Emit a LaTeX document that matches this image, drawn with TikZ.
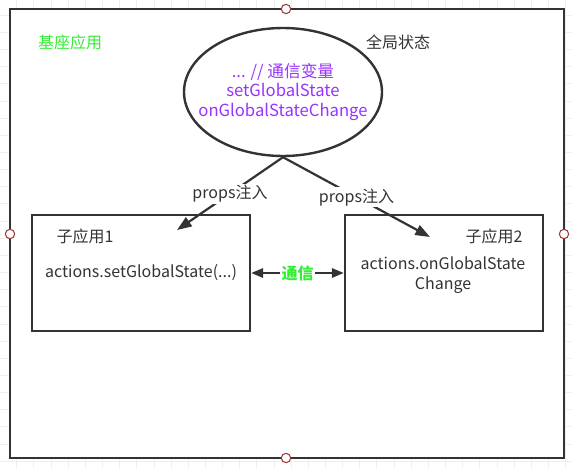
\documentclass[tikz,border=0pt]{standalone}
\usepackage{fontspec}
\setmainfont{Noto Sans CJK SC}
\usetikzlibrary{arrows.meta,shapes.geometric}
\definecolor{ink}{HTML}{333333}
\definecolor{purp}{HTML}{9933FF}
\definecolor{grn}{HTML}{33EE33}
\definecolor{hdl}{HTML}{A03A3A}
\definecolor{gridc}{HTML}{EFEFEF}
\tikzset{
  x=0.75pt,y=-0.75pt,
  frame/.style={draw=ink,line width=2.4pt*0.75,fill=white},
  boxst/.style={draw=ink,line width=2.4pt*0.75,fill=white,minimum width=218*0.75pt,minimum height=116*0.75pt,inner sep=0pt},
  txt/.style={text=ink,font=\fontsize{12}{14.5}\selectfont,inner sep=1pt},
  conn/.style={draw=ink,line width=2.2pt*0.75,-{Triangle[length=11pt,width=8pt]}},
  dconn/.style={draw=ink,line width=2.2pt*0.75,{Triangle[length=9pt,width=7pt]}-{Triangle[length=9pt,width=7pt]}},
  lbl/.style={fill=white,text=ink,font=\fontsize{12}{14.5}\selectfont,inner sep=1pt},
  handle/.style={circle,draw=hdl,fill=white,line width=0.8pt,minimum size=7pt,inner sep=0pt},
}
\begin{document}
\begin{tikzpicture}
\useasboundingbox (0,0) rectangle (572,468);
% background grid
\foreach \i in {0,...,34} {
  \draw[gridc,line width=0.5pt] ({-0.5+17.15*\i},0) -- ({-0.5+17.15*\i},468);
}
\foreach \j in {0,...,28} {
  \draw[gridc,line width=0.5pt] (0,{-2+17.15*\j}) -- (572,{-2+17.15*\j});
}
% outer frame
\node[frame,minimum width=554*0.75pt,minimum height=449*0.75pt,inner sep=0pt] (outer) at (287,233.5) {};
\node[text=grn,font=\fontsize{12}{14.5}\selectfont] (base) at (70,42) {基座应用};
\node[txt] (gstate) at (398,42) {全局状态};
% ellipse
\node[ellipse,draw=ink,line width=2.4pt*0.75,fill=white,minimum width=198*0.75pt,minimum height=128*0.75pt,inner sep=0pt] (ell) at (283,92) {};
\node[text=purp,font=\fontsize{12.5}{14.6}\selectfont,align=center] (etext) at (283,92) {... // 通信变量\\setGlobalState\\onGlobalStateChange};
% boxes
\node[boxst] (b1) at (141,273) {};
\node[boxst,minimum width=198*0.75pt] (b2) at (444,273) {};
\node[txt] (t1) at (85,236) {子应用1};
\node[txt] (a1) at (141,273) {actions.setGlobalState(...)};
\node[txt] (t2) at (494,236) {子应用2};
\node[txt,align=center] (a2) at (443,275) {actions.onGlobalState\\Change};
% connectors
\coordinate (tip1) at (177,230);
\coordinate (tip2) at (430,237);
\draw[conn] (ell.south) -- node[lbl,pos=0.5] {props注入} (tip1);
\draw[conn] (ell.south) -- node[lbl,pos=0.5] {props注入} (tip2);
\draw[dconn] (b1.east) -- node[fill=white,text=grn,font=\fontsize{12}{14.5}\selectfont\bfseries,inner sep=1pt] {通信} (b2.west);
% handles
\node[handle] (h1) at (286,9) {};
\node[handle] (h2) at (286,458) {};
\node[handle] (h3) at (10,234) {};
\node[handle] (h4) at (564,234) {};
\end{tikzpicture}
\end{document}
